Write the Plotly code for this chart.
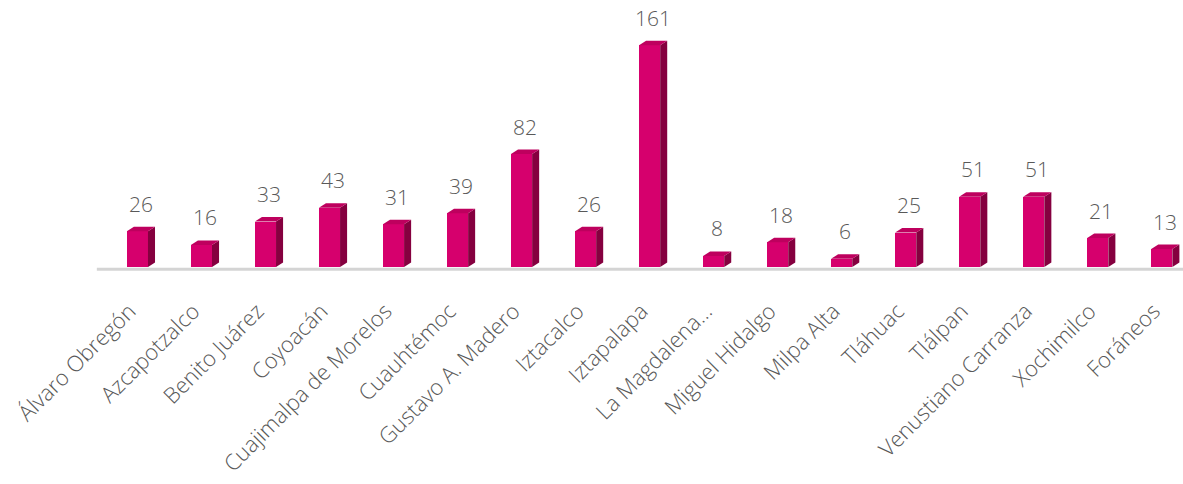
import plotly.graph_objects as go

categories = ["Álvaro Obregón", "Azcapotzalco", "Benito Juárez", "Coyoacán",
              "Cuajimalpa de Morelos", "Cuauhtémoc", "Gustavo A. Madero", "Iztacalco",
              "Iztapalapa", "La Magdalena…", "Miguel Hidalgo", "Milpa Alta",
              "Tláhuac", "Tlálpan", "Venustiano Carranza", "Xochimilco", "Foráneos"]
values = [26, 16, 33, 43, 31, 39, 82, 26, 161, 8, 18, 6, 25, 51, 51, 21, 13]

FRONT = "#D6006D"
SIDE = "#85003F"
TOP = "#BE005E"
TXT = "#595959"
FONT = "Open Sans"

W = 0.33    # front face width (x units)
DX = 0.11   # depth offset x
DY = 3.3    # depth offset y

xs = list(range(len(categories)))
fig = go.Figure()

# front faces
fig.add_trace(go.Bar(x=xs, y=values, width=W, marker=dict(color=FRONT, line=dict(width=0)),
                     hoverinfo="skip", showlegend=False))

# side and top faces
for i, v in zip(xs, values):
    r = i + W / 2
    l = i - W / 2
    fig.add_trace(go.Scatter(x=[r, r + DX, r + DX, r, r], y=[0, DY, v + DY, v, 0],
                             mode="lines", fill="toself", fillcolor=SIDE,
                             line=dict(width=0, color=SIDE), hoverinfo="skip", showlegend=False))
    fig.add_trace(go.Scatter(x=[l, l + DX, r + DX, r, l], y=[v, v + DY, v + DY, v, v],
                             mode="lines", fill="toself", fillcolor=TOP,
                             line=dict(width=0, color=TOP), hoverinfo="skip", showlegend=False))

# value labels
for i, v in zip(xs, values):
    fig.add_annotation(x=i + DX / 2, y=v + DY, text=str(v), showarrow=False,
                       yanchor="bottom", xanchor="center", yshift=7,
                       font=dict(family=FONT, size=21, color=TXT, weight=300))

# floor / axis line
fig.add_shape(type="line", xref="paper", yref="paper", x0=-0.002, x1=1.01, y0=-0.009, y1=-0.009,
              line=dict(color="#D4D4D4", width=3), layer="below")

fig.update_layout(
    width=1183, height=484,
    margin=dict(l=99, r=2, t=26, b=217),
    paper_bgcolor="white", plot_bgcolor="white",
    bargap=0,
    xaxis=dict(range=[-0.6, 16.3], tickmode="array", tickvals=xs,
               ticktext=[c + "\u00a0\u00a0" for c in categories],
               tickangle=-45, showgrid=False, zeroline=False, showline=False, ticks="",
               tickfont=dict(family=FONT, size=22, color=TXT, weight=300),
               ticklabelstandoff=18, automargin=False),
    yaxis=dict(range=[0, 175], visible=False, showgrid=False, zeroline=False, automargin=False),
)

fig.write_html("out.html", config={"displayModeBar": False, "staticPlot": True},
               post_script="document.body.style.margin='0';document.body.style.overflow='hidden';")
